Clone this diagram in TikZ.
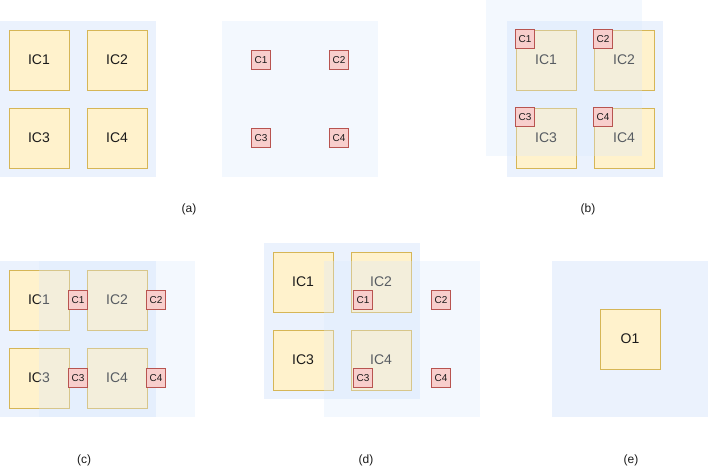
\documentclass[tikz,border=0pt]{standalone}
\usepackage{fontspec}
\setmainfont{Liberation Sans}
\definecolor{gridblue}{HTML}{DAE8FC}
\definecolor{icfill}{HTML}{FFF2CC}
\definecolor{icline}{HTML}{D6B656}
\definecolor{cfill}{HTML}{F8CECC}
\definecolor{cline}{HTML}{B85450}
\definecolor{txtcol}{HTML}{1A1A1A}

\begin{document}
\begin{tikzpicture}[
  x=0.75pt, y=-0.75pt,
  every node/.style={text=txtcol},
  icgrid/.style={fill=gridblue, fill opacity=0.55, draw=none,
                 minimum size=117pt, inner sep=0pt, anchor=north west},
  cgrid/.style={icgrid, fill opacity=0.32},
  icbox/.style={draw=icline, fill=icfill, line width=0.75pt,
                minimum size=45pt, inner sep=0pt,
                font=\fontsize{10.5}{12}\selectfont},
  cbox/.style={draw=cline, fill=cfill, line width=0.75pt,
               minimum size=14.25pt, inner sep=0pt,
               font=\fontsize{7.5}{9}\selectfont},
  caption/.style={font=\fontsize{9}{11}\selectfont}
]
\useasboundingbox (0,0) rectangle (709,468);

%% ── Panel (a): input grid and kernel grid side by side ──────
\node[icgrid] (gridA) at (0,21) {};
\node[icbox] (icA1) at (39,60)   {IC1};
\node[icbox] (icA2) at (117,60)  {IC2};
\node[icbox] (icA3) at (39,138)  {IC3};
\node[icbox] (icA4) at (117,138) {IC4};

\node[cgrid] (kgridA) at (222,21) {};
\node[cbox] (cA1) at (261,60)  {C1};
\node[cbox] (cA2) at (339,60)  {C2};
\node[cbox] (cA3) at (261,138) {C3};
\node[cbox] (cA4) at (339,138) {C4};

\node[caption] (capA) at (189,209) {(a)};

%% ── Panel (b): kernel grid shifted up-left ──────────────────
\node[icgrid] (gridB) at (507,21) {};
\node[icbox] (icB1) at (546,60)  {IC1};
\node[icbox] (icB2) at (624,60)  {IC2};
\node[icbox] (icB3) at (546,138) {IC3};
\node[icbox] (icB4) at (624,138) {IC4};

\node[cgrid] (kgridB) at (486,0) {};
\node[cbox] (cB1) at (525,39)  {C1};
\node[cbox] (cB2) at (603,39)  {C2};
\node[cbox] (cB3) at (525,117) {C3};
\node[cbox] (cB4) at (603,117) {C4};

\node[caption] (capB) at (588,209) {(b)};

%% ── Panel (c): kernel grid shifted right ────────────────────
\node[icgrid] (gridC) at (0,261) {};
\node[icbox] (icC1) at (39,300)  {IC1};
\node[icbox] (icC2) at (117,300) {IC2};
\node[icbox] (icC3) at (39,378)  {IC3};
\node[icbox] (icC4) at (117,378) {IC4};

\node[cgrid] (kgridC) at (39,261) {};
\node[cbox] (cC1) at (78,300)  {C1};
\node[cbox] (cC2) at (156,300) {C2};
\node[cbox] (cC3) at (78,378)  {C3};
\node[cbox] (cC4) at (156,378) {C4};

\node[caption] (capC) at (84,460) {(c)};

%% ── Panel (d): kernel grid shifted down-right ───────────────
\node[icgrid] (gridD) at (264,243) {};
\node[icbox] (icD1) at (303,282) {IC1};
\node[icbox] (icD2) at (381,282) {IC2};
\node[icbox] (icD3) at (303,360) {IC3};
\node[icbox] (icD4) at (381,360) {IC4};

\node[cgrid] (kgridD) at (324,261) {};
\node[cbox] (cD1) at (363,300) {C1};
\node[cbox] (cD2) at (441,300) {C2};
\node[cbox] (cD3) at (363,378) {C3};
\node[cbox] (cD4) at (441,378) {C4};

\node[caption] (capD) at (366,460) {(d)};

%% ── Panel (e): output ───────────────────────────────────────
\node[icgrid] (gridE) at (552,261) {};
\node[icbox] (oE1) at (630,339) {O1};

\node[caption] (capE) at (631,460) {(e)};

\end{tikzpicture}
\end{document}
